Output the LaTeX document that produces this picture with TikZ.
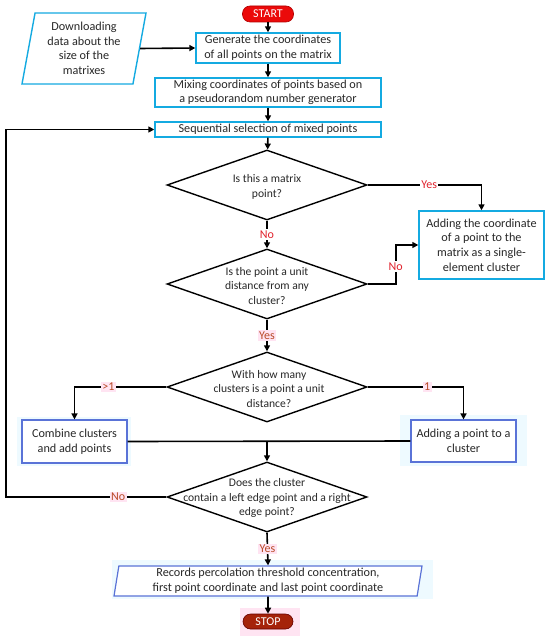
\documentclass[tikz,border=0pt]{standalone}
\usepackage{fontspec}
\setmainfont{Carlito}
\usetikzlibrary{shapes.geometric,arrows.meta}
\definecolor{cyanb}{RGB}{20,170,225}
\definecolor{blueb}{RGB}{90,115,215}
\definecolor{startred}{RGB}{235,10,10}
\definecolor{stopred}{RGB}{165,35,10}
\definecolor{lblred}{RGB}{225,35,45}
\definecolor{lblbrown}{RGB}{185,75,40}
\definecolor{pinkbg}{RGB}{255,228,242}
\definecolor{cyanbg}{RGB}{238,250,255}
\definecolor{txt}{RGB}{40,40,40}
\begin{document}
\begin{tikzpicture}[x=1pt,y=-1pt,
 every node/.style={font=\fontsize{12.2}{14.6}\selectfont, text=txt},
 box/.style={draw=cyanb, line width=1.4pt, fill=white, align=center, inner sep=0pt},
 lbox/.style={draw=blueb, line width=1.2pt, fill=white, align=center, inner sep=0pt},
 para/.style={trapezium, trapezium stretches body, align=center, inner sep=0pt},
 dia/.style={diamond, draw=black, line width=1.4pt, minimum width=200pt, minimum height=70pt, inner sep=0pt},
 dtext/.style={font=\fontsize{11.6}{14.2}\selectfont, align=center},
 term/.style={rounded corners=7.5pt, text=white, inner sep=0pt, minimum width=51pt, minimum height=16pt, font=\fontsize{12}{14}\selectfont},
 conn/.style={line width=1.6pt, draw=black},
 arr/.style={conn, -{Triangle[length=6pt,width=6pt]}},
 lblA/.style={fill=white, text=lblred, font=\fontsize{12}{13}\selectfont, inner sep=1.5pt},
 lblB/.style={fill=pinkbg, text=lblbrown, font=\fontsize{12}{13}\selectfont, inner sep=1.5pt},
 glow/.style={fill=cyanbg, draw=none},
]
\useasboundingbox (0,0) rectangle (550,636);
\fill[white] (0,0) rectangle (550,636);
% faint backgrounds
\fill[glow] (17,417) rectangle (131,466);
\fill[glow] (400,415) rectangle (527,466);
\fill[glow] (112,560) rectangle (433,599);
\fill[pinkbg] (240,608) rectangle (300,636);

% nodes
\node[term, fill=startred, draw=red!70!black, line width=0.6pt] (start) at (268,14) {START};
\node[para, draw=cyanb, line width=1.4pt, trapezium left angle=76, trapezium right angle=104,
      minimum width=124pt, minimum height=71pt] (inp) at (84,48.5)
      {Downloading\\data about the\\size of the\\matrixes};
\node[box, minimum width=144pt, minimum height=30pt] (gen) at (268,48)
      {Generate the coordinates\\of all points on the matrix};
\node[box, minimum width=226pt, minimum height=29pt] (mix) at (268,92.5)
      {Mixing coordinates of points based on\\a pseudorandom number generator};
\node[box, minimum width=226pt, minimum height=15pt] (seq) at (268,129.5)
      {Sequential selection of mixed points};
\node[dia] (d1) at (267,185) {};
\node[dtext] at (267,187) {Is this a matrix\\point?};
\node[box, minimum width=125pt, minimum height=68pt] (b1) at (481.5,245)
      {Adding the coordinate\\of a point to the\\matrix as a single-\\element cluster};
\node[dia] (d2) at (267,284) {};
\node[dtext] at (267,286) {Is the point a unit\\distance from any\\cluster?};
\node[dia] (d3) at (267,387) {};
\node[dtext] at (269,389) {With how many\\clusters is a point a unit\\distance?};
\node[lbox, minimum width=105pt, minimum height=43pt] (bl) at (74.5,441.5)
      {Combine clusters\\and add points};
\node[lbox, minimum width=105pt, minimum height=42pt] (br) at (463.5,441)
      {Adding a point to a\\cluster};
\node[dia] (d4) at (267,497) {};
\node[dtext] at (267,498) {Does the cluster\\contain a left edge point and a right\\edge point?};
\node[para, draw=blueb, line width=1.2pt, fill=white, trapezium left angle=79, trapezium right angle=101,
      minimum width=308pt, minimum height=30pt] (rec) at (268,581)
      {Records percolation threshold concentration,\\first point coordinate and last point coordinate};
\node[term, fill=stopred, draw=red!40!black, line width=0.6pt, minimum width=50pt, minimum height=15pt] (stop) at (268,621.5) {STOP};
\coordinate (loop) at (6,497);

% connectors
\draw[arr] (start) -- (gen);
\draw[arr] (inp.east) -- (gen.west);
\draw[arr] (gen) -- (mix);
\draw[arr] (mix) -- (seq);
\draw[arr] (seq) -- (d1);
\draw[arr] (d1.east) -| node[lblA, pos=0.27] {Yes} (b1.north);
\draw[arr] (d1.south) -- node[lblA] {No} (d2.north);
\draw[arr] (d2.east) -- ++(28,0) |- node[lblA, pos=0.22] {No} (b1.west);
\draw[arr] (d2.south) -- node[lblB] {Yes} (d3.north);
\draw[arr] (d3.west) -| node[lblB, pos=0.315] {>1} (bl.north);
\draw[arr] (d3.east) -| node[lblB, pos=0.31] {1} (br.north);
\draw[conn] (bl.east) -- (br.west);
\draw[arr] (bl.east -| d4.north) -- (d4.north);
\draw[arr] (d4.west) -- node[lblB, pos=0.3] {No} (loop) |- (seq.west);
\draw[arr] (d4.south) -- node[lblB] {Yes} (rec.north);
\draw[arr] (rec.south) -- (stop.north);
\end{tikzpicture}
\end{document}
